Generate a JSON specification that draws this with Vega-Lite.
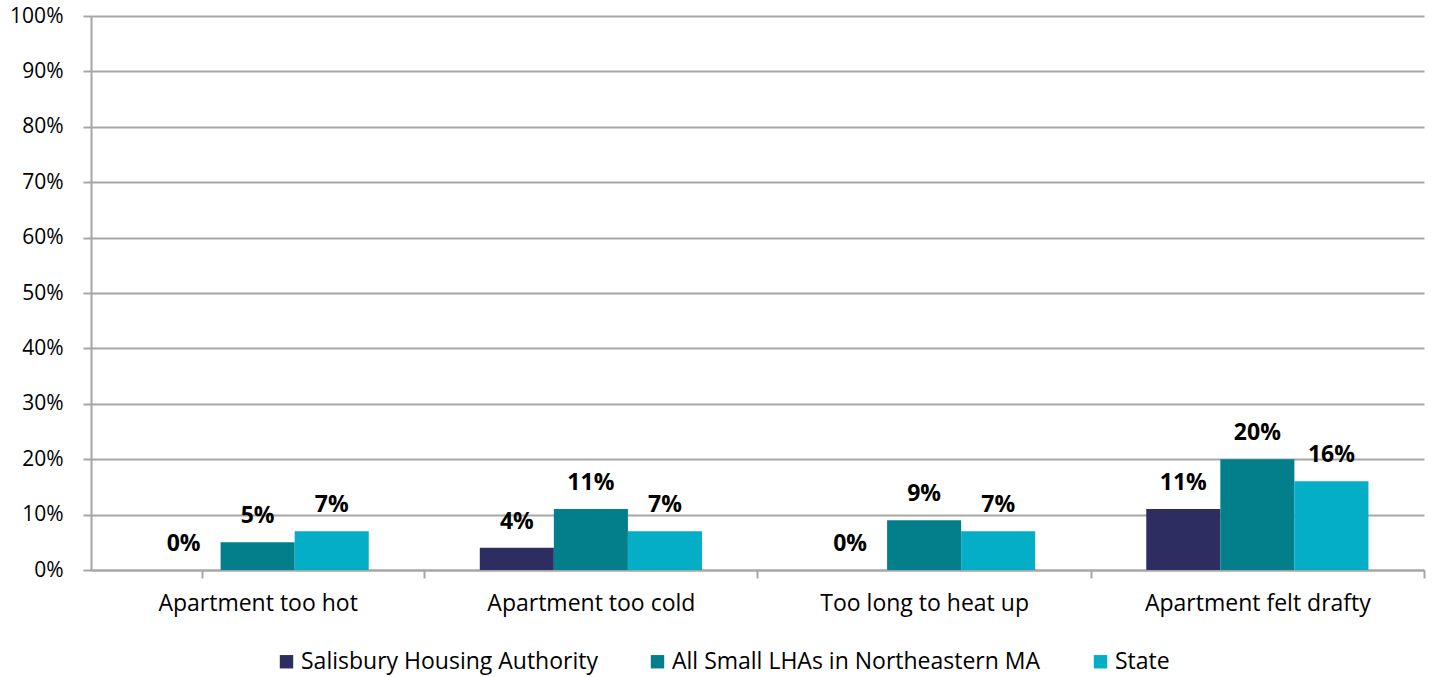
{
  "$schema": "https://vega.github.io/schema/vega-lite/v6.json",
  "autosize": {"type": "none"},
  "padding": {"left": 91, "top": 16, "right": 11, "bottom": 107},
  "width": 1333,
  "height": 554,
  "background": "white",
  "config": {
    "font": "Open Sans",
    "view": {"stroke": null},
    "axis": {"labelFont": "Open Sans", "labelFontSize": 21, "labelColor": "#000000"},
    "legend": {"labelFont": "Open Sans", "labelFontSize": 23, "labelColor": "#000000"}
  },
  "data": {
    "values": [
      {"category": "Apartment too hot", "series": "Salisbury Housing Authority", "value": 0.0},
      {"category": "Apartment too hot", "series": "All Small LHAs in Northeastern MA", "value": 0.05},
      {"category": "Apartment too hot", "series": "State", "value": 0.07},
      {"category": "Apartment too cold", "series": "Salisbury Housing Authority", "value": 0.04},
      {"category": "Apartment too cold", "series": "All Small LHAs in Northeastern MA", "value": 0.11},
      {"category": "Apartment too cold", "series": "State", "value": 0.07},
      {"category": "Too long to heat up", "series": "Salisbury Housing Authority", "value": 0.0},
      {"category": "Too long to heat up", "series": "All Small LHAs in Northeastern MA", "value": 0.09},
      {"category": "Too long to heat up", "series": "State", "value": 0.07},
      {"category": "Apartment felt drafty", "series": "Salisbury Housing Authority", "value": 0.11},
      {"category": "Apartment felt drafty", "series": "All Small LHAs in Northeastern MA", "value": 0.20},
      {"category": "Apartment felt drafty", "series": "State", "value": 0.16}
    ]
  },
  "encoding": {
    "x": {
      "field": "category", "type": "nominal", "sort": null, "title": null,
      "scale": {"paddingInner": 0.3333, "paddingOuter": 0.1667},
      "axis": {
        "labelAngle": 0, "bandPosition": 1, "tickExtra": true, "tickOffset": 55.5,
        "labelOffset": -55.5, "labelAlign": "center", "labelLimit": 400, "labelFontSize": 23,
        "tickSize": 8, "tickColor": "#A6A6A6", "tickWidth": 2,
        "domainColor": "#A6A6A6", "domainWidth": 2, "labelPadding": 14, "grid": false
      }
    },
    "xOffset": {"field": "series", "type": "nominal", "sort": ["Salisbury Housing Authority", "All Small LHAs in Northeastern MA", "State"], "scale": {"paddingInner": 0}},
    "y": {
      "field": "value", "type": "quantitative", "title": null,
      "scale": {"domain": [0, 1], "nice": false},
      "axis": {
        "format": ".0%", "values": [0, 0.1, 0.2, 0.3, 0.4, 0.5, 0.6, 0.7, 0.8, 0.9, 1.0],
        "labelOverlap": false,
        "grid": true, "gridColor": "#A6A6A6", "gridWidth": 2,
        "tickSize": 8, "tickColor": "#A6A6A6", "tickWidth": 2,
        "domainColor": "#A6A6A6", "domainWidth": 2, "labelPadding": 20
      }
    }
  },
  "layer": [
    {
      "mark": {"type": "bar"},
      "encoding": {
        "color": {
          "field": "series", "type": "nominal", "title": null,
          "sort": ["Salisbury Housing Authority", "All Small LHAs in Northeastern MA", "State"],
          "scale": {"domain": ["Salisbury Housing Authority", "All Small LHAs in Northeastern MA", "State"], "range": ["#2E2D62", "#037F8C", "#03AEC6"]},
          "legend": {
            "orient": "none", "legendX": 184, "legendY": 634, "direction": "horizontal", "columns": 3, "gridAlign": "each",
            "symbolType": "square", "symbolSize": 180, "symbolStrokeWidth": 0, "symbolOpacity": 1,
            "labelLimit": 500, "columnPadding": 48, "labelOffset": 3
          }
        }
      }
    },
    {
      "mark": {"type": "text", "baseline": "alphabetic", "dy": -19, "fontSize": 23, "fontWeight": "bold", "color": "#000000"},
      "encoding": {
        "text": {"field": "value", "type": "quantitative", "format": ".0%"}
      }
    }
  ]
}
